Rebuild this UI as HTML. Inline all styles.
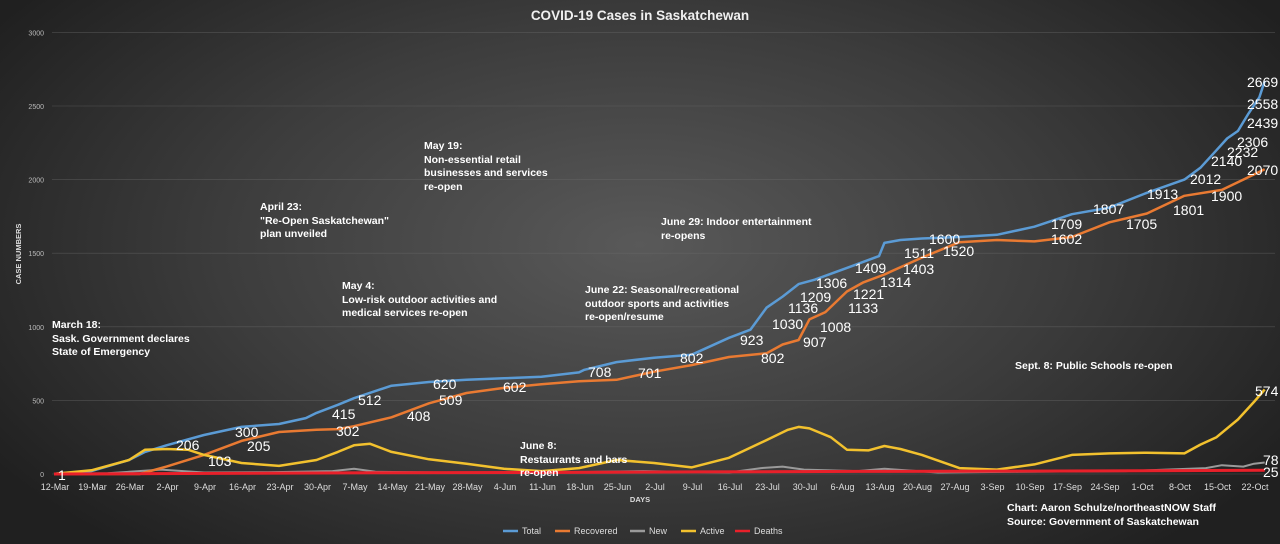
<!DOCTYPE html>
<html><head><meta charset="utf-8"><style>
html,body{margin:0;padding:0;}
body{width:1280px;height:544px;overflow:hidden;background:radial-gradient(ellipse 60% 75% at 50% 45%,#595959 0%,#3c3c3c 55%,#202020 100%);font-family:"Liberation Sans",sans-serif;position:relative;}
svg{position:absolute;left:0;top:0;}
.ann{position:absolute;color:#fff;font-weight:bold;font-size:10.5px;line-height:13.5px;white-space:nowrap;}
</style></head><body>
<svg id="chart" width="1280" height="544"></svg>
<div class="ann" style="left:52px;top:319px">March 18:<br>Sask. Government declares<br>State of Emergency</div>
<div class="ann" style="left:260px;top:201px">April 23:<br>"Re-Open Saskatchewan"<br>plan unveiled</div>
<div class="ann" style="left:342px;top:280px">May 4:<br>Low-risk outdoor activities and<br>medical services re-open</div>
<div class="ann" style="left:424px;top:140px">May 19:<br>Non-essential retail<br>businesses and services<br>re-open</div>
<div class="ann" style="left:520px;top:440px">June 8:<br>Restaurants and bars<br>re-open</div>
<div class="ann" style="left:585px;top:284px">June 22: Seasonal/recreational<br>outdoor sports and activities<br>re-open/resume</div>
<div class="ann" style="left:661px;top:216px">June 29: Indoor entertainment<br>re-opens</div>
<div class="ann" style="left:1015px;top:360px">Sept. 8: Public Schools re-open</div>
<div class="ann" style="left:1007px;top:502px">Chart: Aaron Schulze/northeastNOW Staff<br>Source: Government of Saskatchewan</div>
<script>
const xTickLabels=["12-Mar","19-Mar","26-Mar","2-Apr","9-Apr","16-Apr","23-Apr","30-Apr","7-May","14-May","21-May","28-May","4-Jun","11-Jun","18-Jun","25-Jun","2-Jul","9-Jul","16-Jul","23-Jul","30-Jul","6-Aug","13-Aug","20-Aug","27-Aug","3-Sep","10-Sep","17-Sep","24-Sep","1-Oct","8-Oct","15-Oct","22-Oct"];
const yTicks=[0,500,1000,1500,2000,2500,3000];
const totalDays=[0,7,14,17,21,28,35,42,47,49,53,56,63,70,77,84,91,98,99,105,112,119,126,130,133,136,139,142,148,154,155,158,162,169,176,183,190,197,204,211,214,217,219,221,223,225,226];
const totalVals=[1,20,95,150,195,265,320,340,380,415,470,515,600,625,640,650,660,690,708,760,790,810,925,980,1130,1205,1290,1320,1400,1480,1570,1590,1600,1610,1625,1680,1765,1810,1910,2000,2080,2200,2280,2330,2450,2560,2669];
const recDays=[0,16,21,28,35,42,49,53,56,63,70,77,84,91,98,105,112,119,126,133,136,139,141,144,148,151,155,162,169,176,183,190,197,204,211,218,222,226];
const recVals=[0,0,50,130,225,285,300,305,325,385,480,550,585,610,630,640,695,740,795,820,880,910,1050,1100,1240,1300,1355,1470,1575,1590,1580,1610,1710,1770,1890,1930,2000,2070];
const actDays=[0,7,14,17,21,25,28,35,42,49,53,56,59,63,70,77,84,91,98,105,112,119,126,133,137,139,141,145,148,152,155,158,162,169,176,183,190,197,204,211,214,217,221,224,226];
const actVals=[1,25,95,165,170,165,130,75,55,95,150,195,205,150,100,70,35,20,40,95,75,45,110,230,300,320,310,250,165,160,190,170,130,40,30,65,130,140,145,140,200,250,370,490,574];
const newDays=[0,10,14,20,28,40,52,56,60,72,90,110,126,132,136,140,150,155,165,180,200,215,218,222,224,226];
const newVals=[0,5,15,30,10,12,20,35,15,10,8,20,10,40,50,30,20,35,10,15,20,40,60,50,70,78];
const deathDays=[0,30,60,90,120,150,180,210,226];
const deathVals=[0,4,8,10,14,18,20,23,25];
const X0=54,DAYPX=37.5/7,Y0=474,YPX=73.6/500;
const xs=d=>X0+d*DAYPX, ys=v=>Y0-v*YPX;
const svg=document.getElementById('chart');
const NS='http://www.w3.org/2000/svg';
function mk(t,a){const e=document.createElementNS(NS,t);for(const k in a)e.setAttribute(k,a[k]);svg.appendChild(e);return e;}
function txt(x,y,s,size,fill,anchor,weight){const e=mk('text',{x:x,y:y,'font-size':size,fill:fill,'text-anchor':anchor||'start','font-family':'Liberation Sans, sans-serif','font-weight':weight||'normal'});e.textContent=s;return e;}
let t=txt(640,20,'COVID-19 Cases in Saskatchewan',13.5,'#f0f0f0','middle','bold');


yTicks.forEach(v=>{
  const g=mk('line',{x1:52,x2:1275,y1:ys(v),y2:ys(v),stroke:'#6a6a6a','stroke-width':0.6,'stroke-opacity':0.6});
  
  
  const l=txt(44,ys(v)+3,String(v),7,'#bbbbbb','end');
  
  
});
xTickLabels.forEach((s,i)=>{
  const l=txt(X0+1+i*37.5,490,s,9,'#dddddd','middle');
  
  
});
t=txt(640,502,'DAYS',7.5,'#dddddd','middle','bold');


t=txt(0,0,'CASE NUMBERS',7.5,'#dddddd','middle','bold');
t.setAttribute('transform','translate(21,254) rotate(-90)');


function line(days,vals,color,w,name){
  const p=days.map((d,i)=>(i?'L':'M')+xs(d).toFixed(1)+','+ys(vals[i]).toFixed(1)).join('');
  const e=mk('path',{d:p,fill:'none',stroke:color,'stroke-width':w,'stroke-linejoin':'round'});
  
  
}
line(newDays,newVals,'#9a9a9a',2,'series-new');
line(totalDays,totalVals,'#5b9bd5',2.5,'series-total');
line(recDays,recVals,'#e97a32',2.5,'series-recovered');
line(actDays,actVals,'#f2c12e',2.5,'series-active');
line(deathDays,deathVals,'#e8202a',3,'series-deaths');
const labels=[["1",58,480],["206",176,450],["103",208,466],["300",235,437],["205",247,451],["415",332,419],["302",336,436],["512",358,405],["408",407,421],["620",433,389],["509",439,405],["602",503,392],["708",588,377],["701",638,378],["802",680,363],["923",740,345],["802",761,363],["1030",772,329],["907",803,347],["1136",788,313],["1209",800,302],["1306",816,288],["1008",820,332],["1221",853,299],["1133",848,313],["1314",880,287],["1409",855,273],["1403",903,274],["1511",904,258],["1600",929,244],["1520",943,256],["1709",1051,229],["1602",1051,244],["1807",1093,214],["1705",1126,229],["1913",1147,199],["1801",1173,215],["2012",1190,184],["1900",1211,201],["2140",1211,166],["2232",1227,157],["2306",1237,147],["2439",1247,128],["2558",1247,109],["2669",1247,87],["2070",1247,175],["574",1255,396],["78",1263,465],["25",1263,477]];
labels.forEach(l=>{
  const e=txt(l[1],l[2],l[0],14,'#ffffff','start');
  
  
});
const leg=[["Total","#5b9bd5",503],["Recovered","#e97a32",555],["New","#9a9a9a",630],["Active","#f2c12e",681],["Deaths","#e8202a",735]];
leg.forEach(l=>{
  const g=mk('line',{x1:l[2],x2:l[2]+15,y1:531,y2:531,stroke:l[1],'stroke-width':2.5});
  
  
  const e=txt(l[2]+19,534,l[0],9,'#dddddd','start');
  
  
});
</script>
</body></html>
